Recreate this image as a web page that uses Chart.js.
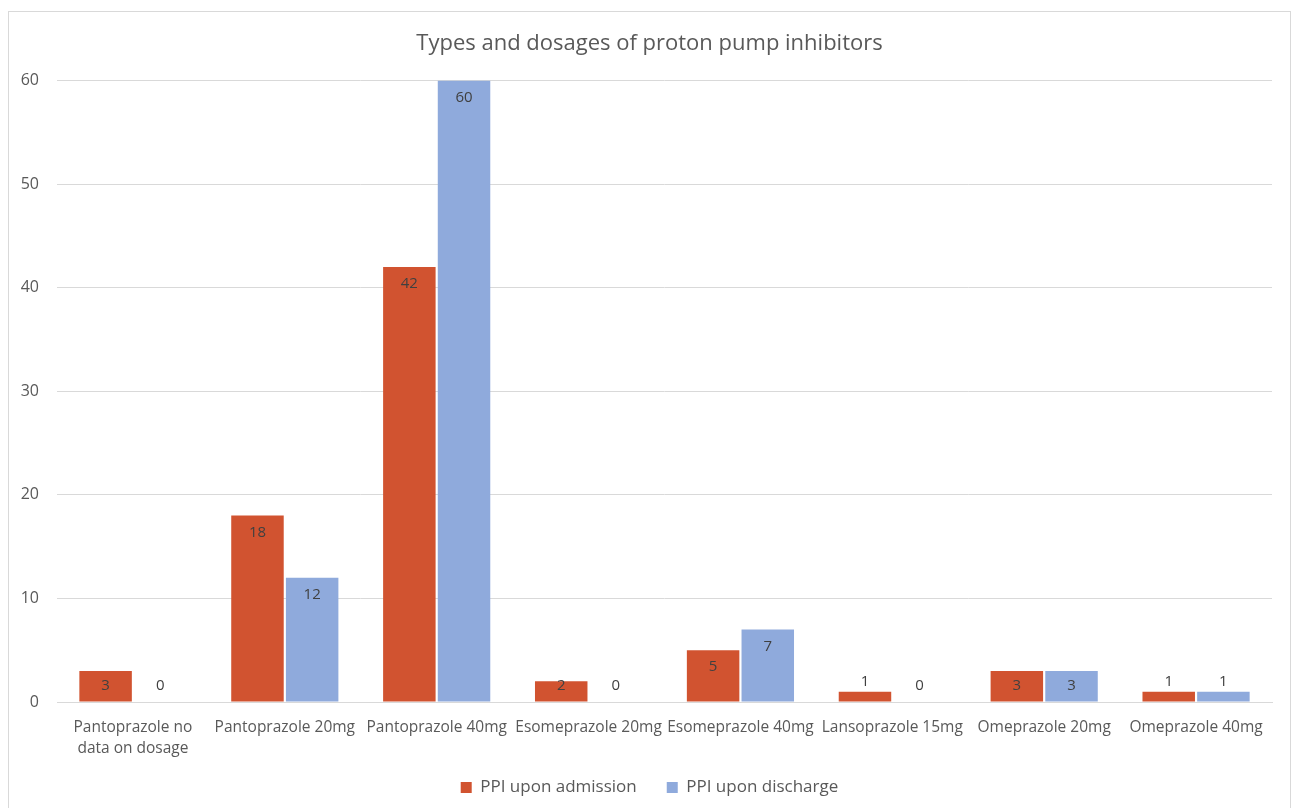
<!DOCTYPE html>
<html>
<head>
<meta charset="utf-8">
<script src="https://cdn.jsdelivr.net/npm/chart.js@4/dist/chart.umd.min.js"></script>
<style>
	body { margin: 0; background: #fff; overflow: hidden; }
	#frame {
		position: absolute;
		left: 8px;
		top: 11px;
		width: 1281px;
		height: 810px;
		border: 1px solid #d9d9d9;
		background: #fff;
		overflow: hidden;
	}
	#chart { display: block; }
</style>
</head>
<body>
<div id="frame"><canvas id="chart" width="1281" height="812"></canvas></div>
<script>
// Chart values
const categories = [
	[ 'Pantoprazole no', 'data on dosage' ],
	'Pantoprazole 20mg',
	'Pantoprazole 40mg',
	'Esomeprazole 20mg',
	'Esomeprazole 40mg',
	'Lansoprazole 15mg',
	'Omeprazole 20mg',
	'Omeprazole 40mg'
];
const admission = [ 3, 18, 42, 2, 5, 1, 3, 1 ];
const discharge = [ 0, 12, 60, 0, 7, 0, 3, 1 ];
const yTicks = [ 0, 10, 20, 30, 40, 50, 60 ];

const FONT = '"Open Sans", "Noto Sans", sans-serif';
const GREY = '#595959';

// draws value labels at the inside end of each bar, like Excel
const barLabels = {
	id: 'barLabels',
	beforeDraw( chart ) {
		// let the two-line category label run past the axis box instead of being clipped
		chart.scales.x._computeLabelArea = () => undefined;
	},
	afterDatasetsDraw( chart ) {
		const ctx = chart.ctx;
		const base = chart.scales.y.getPixelForValue( 0 );
		ctx.save();
		ctx.font = '15px ' + FONT;
		ctx.fillStyle = '#404040';
		ctx.textAlign = 'center';
		ctx.textBaseline = 'middle';
		chart.data.datasets.forEach( ( ds, i ) => {
			chart.getDatasetMeta( i ).data.forEach( ( bar, j ) => {
				const h = base - bar.y;
				let y;
				if ( h > 0 && h < 15 ) {
					y = bar.y - 10;
				} else {
					y = Math.min( bar.y + 17, base - 16 );
				}
				ctx.fillText( String( ds.data[ j ] ), bar.x, y );
			} );
		} );
		ctx.restore();
	}
};

new Chart( document.getElementById( 'chart' ), {
	type: 'bar',
	data: {
		labels: categories,
		datasets: [
			{
				label: 'PPI upon admission',
				data: admission,
				backgroundColor: '#D15330',
				categoryPercentage: 0.72,
				barPercentage: 0.96
			},
			{
				label: 'PPI upon discharge',
				data: discharge,
				backgroundColor: '#8FAADC',
				categoryPercentage: 0.72,
				barPercentage: 0.96
			}
		]
	},
	options: {
		responsive: false,
		animation: false,
		layout: { padding: { left: 0, right: 0, top: 0, bottom: 18 } },
		plugins: {
			title: {
				display: true,
				text: 'Types and dosages of proton pump inhibitors',
				color: GREY,
				font: { family: FONT, size: 22, weight: 'normal' },
				padding: { top: 19, bottom: 23 }
			},
			legend: {
				position: 'bottom',
				labels: {
					color: GREY,
					font: { family: FONT, size: 17 },
					boxWidth: 11,
					boxHeight: 11,
					padding: 30
				}
			},
			tooltip: { enabled: false }
		},
		scales: {
			x: {
				grid: { display: false, drawTicks: false },
				border: { color: '#d9d9d9' },
				ticks: {
					color: GREY,
					font: { family: FONT, size: 15.5, lineHeight: 1.35 },
					padding: 15,
					maxRotation: 0,
					autoSkip: false
				},
				afterFit( scale ) { scale.height = 47; }
			},
			y: {
				min: 0,
				max: 60,
				afterBuildTicks( scale ) {
					scale.ticks = yTicks.map( v => ( { value: v } ) );
				},
				grid: { color: '#d9d9d9', drawTicks: false },
				border: { display: false },
				ticks: {
					color: GREY,
					font: { family: FONT, size: 16 },
					padding: 18
				},
				afterFit( scale ) { scale.width = 48; }
			},
			// empty right-hand spacer so the title and legend stay centred on the frame
			spacer: {
				position: 'right',
				display: true,
				grid: { display: false, drawTicks: false },
				border: { display: false },
				ticks: { display: false },
				afterFit( scale ) { scale.width = 18; }
			}
		}
	},
	plugins: [ barLabels ]
} );
</script>
</body>
</html>
